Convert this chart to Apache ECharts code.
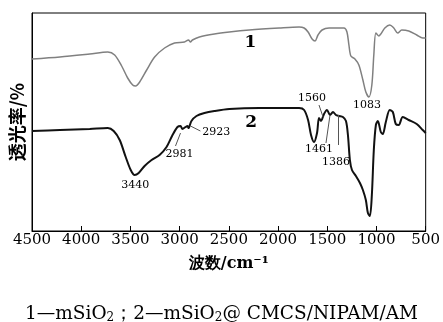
<!DOCTYPE html>
<html>
<head>
<meta charset="utf-8">
<script src="https://cdn.jsdelivr.net/npm/echarts@6/dist/echarts.min.js"></script>
<style>
  html, body { margin: 0; padding: 0; background: #fff; }
  #ftir { width: 443px; height: 322px; }
</style>
</head>
<body>
<div id="ftir"></div>
<script>
  // 波数 (cm-1) and relative transmittance
  var wn1 = [4500, 4216, 3913, 3730, 3660, 3589, 3528, 3477, 3447, 3406, 3335, 3254, 3153, 3052, 2951, 2910, 2890, 2870, 2799, 2647, 2495, 2292, 1989, 1786, 1735, 1695, 1654, 1624, 1594, 1553, 1482, 1330, 1300, 1280, 1260, 1219, 1179, 1138, 1108, 1077, 1047, 1027, 1006, 976, 956, 915, 865, 824, 784, 743, 672, 591, 530, 500];
  var t1 = [172, 174, 177, 179, 176, 165, 153, 146, 145, 149, 161, 174, 183, 188, 189, 191, 189, 191, 194, 197, 199, 201, 203, 204, 203, 199, 192, 190, 196, 201, 203, 203, 199, 186, 175, 172, 166, 151, 139, 134, 146, 176, 198, 195, 197, 203, 206, 203, 198, 201, 200, 196, 193, 193];

  var wn2 = [4500, 4216, 3913, 3730, 3670, 3609, 3548, 3497, 3457, 3416, 3356, 3285, 3204, 3133, 3072, 3022, 2991, 2971, 2940, 2920, 2910, 2880, 2829, 2748, 2647, 2495, 2191, 1786, 1735, 1695, 1665, 1635, 1604, 1584, 1564, 1533, 1503, 1472, 1442, 1412, 1381, 1341, 1310, 1290, 1270, 1249, 1209, 1168, 1138, 1108, 1087, 1067, 1047, 1027, 1006, 986, 956, 936, 905, 865, 834, 804, 774, 733, 672, 591, 530, 500];
  var t2 = [100, 101, 102, 103, 100, 91, 74, 61, 56, 58, 65, 71, 76, 84, 96, 104, 105, 102, 104, 105, 103, 110, 115, 118, 120, 122, 123, 123, 121, 111, 96, 89, 98, 113, 110, 117, 121, 116, 119, 116, 115, 114, 110, 96, 71, 61, 55, 48, 41, 31, 18, 15, 36, 81, 106, 110, 99, 97, 109, 121, 119, 107, 106, 114, 111, 107, 101, 98];

  var xTicks = [4500, 4000, 3500, 3000, 2500, 2000, 1500, 1000, 500];

  function zip(xs, ys) {
    return xs.map(function (x, i) { return [x, ys[i]]; });
  }

  var chart = echarts.init(document.getElementById('ftir'));
  var serif = 'DejaVu Serif';
  var leader = { color: '#555', width: 1, type: 'solid' };

  function tag(text, coord, size, weight) {
    return {
      coord: coord,
      symbol: 'circle',
      symbolSize: 0,
      label: {
        show: true, position: 'inside', formatter: text,
        fontFamily: serif, fontSize: size, fontWeight: weight || 'normal', color: '#000'
      }
    };
  }

  var option = {
    animation: false,
    title: {
      text: '1—mSiO{s|2}；2—mSiO{s|2}@ CMCS/NIPAM/AM',
      left: 'center',
      top: 299,
      textStyle: {
        fontFamily: serif, fontSize: 18.5, fontWeight: 'normal', color: '#000',
        rich: { s: { fontFamily: serif, fontSize: 12, verticalAlign: 'bottom', padding: [8, 0, 0, 0] } }
      }
    },
    grid: {
      left: 32, right: 16, top: 13, bottom: 91,
      show: true, borderColor: '#000', borderWidth: 1
    },
    xAxis: {
      type: 'value',
      min: 500, max: 4500, interval: 500, inverse: true,
      name: '波数/cm⁻¹',
      nameLocation: 'middle',
      nameGap: 25,
      nameTextStyle: { fontFamily: serif, fontSize: 16, fontWeight: 'bold', color: '#000' },
      axisLine: { lineStyle: { color: '#000', width: 1 } },
      axisTick: { inside: true, length: 5, lineStyle: { color: '#000' } },
      axisLabel: {
        fontFamily: serif, fontSize: 15, color: '#000', margin: 2,
        customValues: xTicks,
        formatter: function (v) { return String(v); }
      },
      splitLine: { show: false }
    },
    yAxis: {
      type: 'value',
      min: 0, max: 218,
      name: '透光率/%',
      nameLocation: 'middle',
      nameRotate: 90,
      nameGap: 6,
      nameTextStyle: { fontFamily: 'Noto Sans CJK SC', fontSize: 18, fontWeight: 'bold', color: '#000' },
      axisLine: { show: true, lineStyle: { color: '#000' } },
      axisTick: { show: false },
      axisLabel: { show: false },
      splitLine: { show: false }
    },
    series: [
      {
        name: '1',
        type: 'line',
        data: zip(wn1, t1),
        smooth: 0.3,
        symbol: 'none',
        lineStyle: { color: '#808080', width: 1.5 },
        markPoint: {
          silent: true,
          data: [
            tag('1', [2282, 188], 17, 'bold'),
            tag('1083', [1097, 126], 11)
          ]
        }
      },
      {
        name: '2',
        type: 'line',
        data: zip(wn2, t2),
        smooth: 0.3,
        symbol: 'none',
        lineStyle: { color: '#111', width: 2 },
        markPoint: {
          silent: true,
          data: [
            tag('2', [2272, 108], 17, 'bold'),
            tag('3440', [3450, 46], 11),
            tag('2981', [3001, 77], 11),
            tag('2923', [2627, 99], 11),
            tag('1560', [1654, 133], 11),
            tag('1461', [1584, 82], 11),
            tag('1386', [1411, 69], 11)
          ]
        },
        markLine: {
          silent: true,
          symbol: ['none', 'none'],
          label: { show: false },
          lineStyle: leader,
          data: [
            [{ coord: [2991, 98] }, { coord: [3042, 85] }],
            [{ coord: [2890, 105] }, { coord: [2789, 100] }],
            [{ coord: [1584, 126] }, { coord: [1543, 114] }],
            [{ coord: [1513, 88] }, { coord: [1472, 116] }],
            [{ coord: [1391, 116] }, { coord: [1391, 86] }]
          ]
        }
      }
    ]
  };

  chart.setOption(option);
</script>
</body>
</html>
